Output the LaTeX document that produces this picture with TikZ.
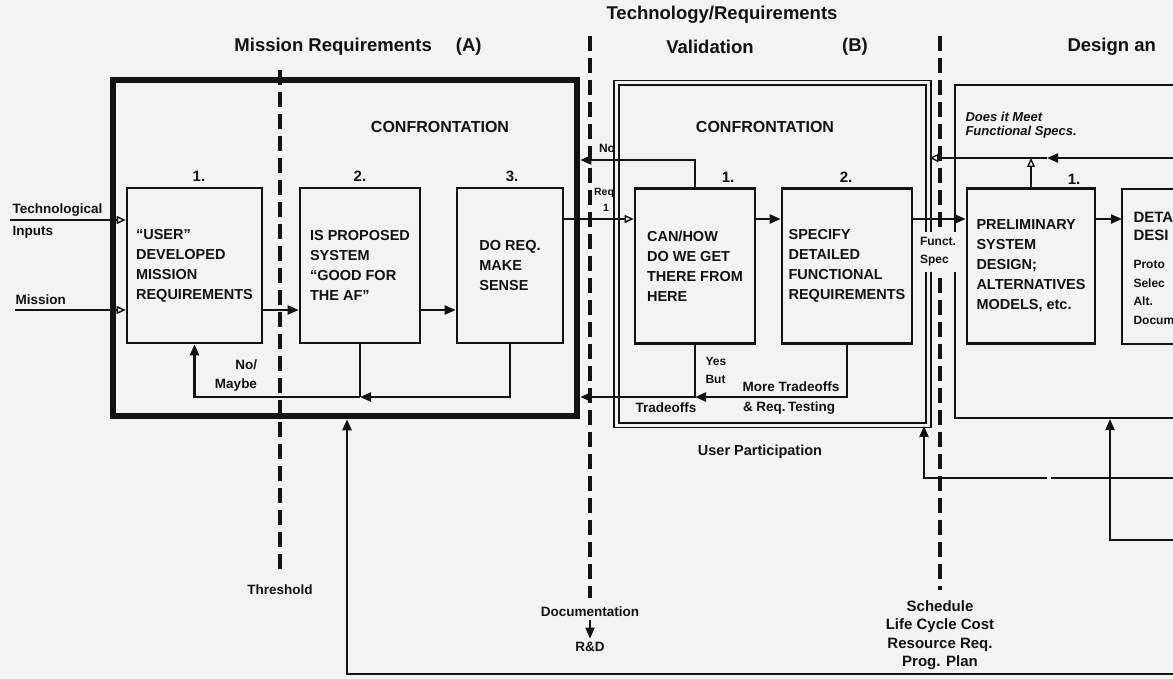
\documentclass[tikz,border=0pt]{standalone}
\usepackage{fontspec}
\setmainfont{Liberation Sans}
\usetikzlibrary{arrows.meta}
\definecolor{bg}{RGB}{243,243,240}
\definecolor{ink}{RGB}{18,18,18}
\begin{document}
\begin{tikzpicture}[x=1pt,y=-1pt,
  every node/.style={text=ink, font=\bfseries},
  proc/.style={draw=ink, line width=2.6pt, align=left, inner sep=0pt,
    font=\fontsize{14.5}{20}\selectfont\bfseries, minimum height=155pt},
  conn/.style={draw=ink, line width=2.2pt},
  arr/.style={conn, -{Triangle[length=11pt,width=9pt]}},
  oarr/.style={conn, -{Triangle[open,length=9pt,width=8pt,line width=1.4pt]}},
  sepline/.style={draw=ink, line width=3.8pt, dash pattern=on 15pt off 7pt},
  hdr/.style={font=\fontsize{18.5}{20}\selectfont\bfseries},
  lbl/.style={font=\fontsize{13.5}{19}\selectfont\bfseries},
  slbl/.style={font=\fontsize{12}{18}\selectfont\bfseries},
  num/.style={font=\fontsize{15}{16}\selectfont\bfseries},
  conf/.style={font=\fontsize{16}{18}\selectfont\bfseries},
  ital/.style={font=\fontsize{13}{15}\selectfont\bfseries\itshape, anchor=west},
]
\useasboundingbox (0,0) rectangle (1173,679);
\fill[bg] (0,0) rectangle (1173,679);

% headers
\node[hdr] (hMR) at (358,47) {Mission Requirements\hspace{24pt}(A)};
\node[hdr] (hTR) at (722,15) {Technology/Requirements};
\node[hdr] (hVal) at (710,47) {Validation};
\node[hdr] (hB) at (855,47) {(B)};
\node[hdr, anchor=west] (hDes) at (1064,47) {Design an};

% phase separators
\draw[sepline] (280,70) -- (280,574);
\draw[sepline] (590,36) -- (590,598);
\draw[sepline] (940,36) -- (940,590);

% frames
\node[draw=ink, line width=6.5pt, minimum width=464pt, minimum height=336pt, inner sep=0pt] (A) at (345,248) {};
\node[draw=ink, double=bg, double distance=3pt, line width=1.8pt, minimum width=312pt, minimum height=342pt, inner sep=0pt] (B) at (772.5,254) {};
\draw[conn, line width=2.4pt] (1173,85) -- (955,85) -- (955,418) -- (1173,418);
\draw[conn, line width=2.4pt] (1173,189) -- (1122,189) -- (1122,344) -- (1173,344);

\node[conf] (cA) at (440,127) {CONFRONTATION};
\node[conf] (cB) at (765,127) {CONFRONTATION};

% process boxes
\node[proc, minimum width=135pt] (A1) at (194.5,265.5) {``USER''\\DEVELOPED\\MISSION\\REQUIREMENTS};
\node[proc, minimum width=120pt] (A2) at (360,265.5) {IS PROPOSED\\SYSTEM\\``GOOD FOR\\THE AF''};
\node[proc, minimum width=106pt] (A3) at (510,265.5) {DO REQ.\\MAKE\\SENSE};
\node[proc, minimum width=120pt] (B1) at (695,266) {CAN/HOW\\DO WE GET\\THERE FROM\\HERE};
\node[proc, minimum width=130pt] (B2) at (847,266) {SPECIFY\\DETAILED\\FUNCTIONAL\\REQUIREMENTS};
\node[proc, minimum width=128pt] (C1) at (1031,266) {PRELIMINARY\\SYSTEM\\DESIGN;\\ALTERNATIVES\\MODELS, etc.};

\node[num] (nA1) at (199,176) {1.};
\node[num] (nA2) at (360,176) {2.};
\node[num] (nA3) at (512,176) {3.};
\node[num] (nB1) at (728,177) {1.};
\node[num] (nB2) at (846,177) {2.};
\node[num] (nC1) at (1074,179) {1.};

% partial box D text
\node[num, anchor=west] (d1) at (1130,217) {DETA};
\node[num, anchor=west] (d2) at (1130,235) {DESI};
\node[slbl, anchor=west] (d3) at (1130,264) {Proto};
\node[slbl, anchor=west] (d4) at (1130,283) {Selec};
\node[slbl, anchor=west] (d5) at (1130,301) {Alt.};
\node[slbl, anchor=west] (d6) at (1130,320) {Docum};

% row coordinates
\coordinate (rowT) at (0,219);
\coordinate (rowM) at (0,310);
\coordinate (rowNo) at (0,160);
\coordinate (rowFb) at (0,397);

% inputs
\coordinate (techS) at (10,220);
\coordinate (misS) at (15,310);
\draw[oarr] (techS) -- (A1.west |- techS);
\draw[oarr] (misS) -- (A1.west |- misS);

% mission requirement flow
\draw[arr] (A1.east |- rowM) -- (A2.west |- rowM);
\draw[arr] (A2.east |- rowM) -- (A3.west |- rowM);
\coordinate (fbA2) at (A2.south |- rowFb);
\draw[arr] (A3.south) -- (A3.south |- rowFb) -- (fbA2);
\draw[conn] (A2.south) -- (fbA2);
\draw[arr] (fbA2) -- (A1.south |- rowFb) -- (A1.south);

% to validation
\draw[oarr] (A3.east |- rowT) -- (B1.west |- rowT);
\draw[arr] (B1.north) -- (B1.north |- rowNo) -- (A.east |- rowNo);
\draw[arr] (B1.east |- rowT) -- (B2.west |- rowT);
\coordinate (fbB1) at (B1.south |- rowFb);
\draw[arr] (B2.south) -- (B2.south |- rowFb) -- (fbB1);
\draw[arr] (B1.south) -- (fbB1) -- (A.east |- rowFb);

% to design
\draw[arr] (B2.east |- rowT) -- (C1.west |- rowT);
\coordinate (Dw) at (1122,219);
\draw[arr] (C1.east |- rowT) -- (Dw);
\coordinate (dmR) at (1173,158);
\coordinate (dmM) at (1047,158);
\draw[arr] (dmR) -- (dmM);
\draw[oarr] (dmM) -- (B.east |- dmM);
\draw[oarr] (C1.north) -- (C1.north |- dmM);

% lower feedback lines
\coordinate (r478) at (1173,478);
\coordinate (g1) at (1051,478);
\coordinate (g2) at (1047,478);
\coordinate (c478) at (924,478);
\draw[conn] (r478) -- (g1);
\draw[arr] (g2) -- (c478) -- (B.south -| c478);
\coordinate (r540) at (1173,540);
\coordinate (c540) at (1110,540);
\coordinate (Cbot) at (1110,419);
\draw[arr] (r540) -- (c540) -- (Cbot);
\coordinate (botR) at (1173,674);
\coordinate (botL) at (347,674);
\draw[arr] (botR) -- (botL) -- (botL |- A.south);

% labels
\node[lbl, anchor=base west] (tech) at (9,214) {Technological};
\node[lbl, anchor=north west] (inp) at (9,223) {Inputs};
\node[lbl, anchor=base west] (mis) at (12,304) {Mission};
\node[lbl, align=right] (nomay) at (236,376) {No/\\Maybe};
\node[slbl] (no) at (607,148) {No};
\node[font=\fontsize{10.5}{11}\selectfont\bfseries] (req) at (604,193) {Req};
\node[font=\fontsize{10.5}{11}\selectfont\bfseries] (req1) at (606,208) {1};
\node[slbl, align=left, anchor=west] (yesbut) at (702,370) {Yes\\But};
\node[lbl] (more) at (791,387) {More Tradeoffs};
\node[lbl] (reqt) at (789,408) {\& Req.\,Testing};
\node[lbl] (trade) at (666,408) {Tradeoffs};
\node[slbl, fill=bg, align=left, minimum width=46pt, minimum height=40pt, inner sep=1pt] (fspec) at (938,252) {Funct.\\Spec};
\node[ital] (dm1) at (962,117) {Does it Meet};
\node[ital] (dm2) at (962,132) {Functional Specs.};
\node[font=\fontsize{14.5}{16}\selectfont\bfseries] (user) at (760,452) {User Participation};
\node[lbl] (thr) at (280,590) {Threshold};
\node[lbl] (doc) at (590,612) {Documentation};
\node[lbl] (rd) at (590,647) {R\&D};
\draw[arr, line width=1.6pt] (doc) -- (rd);
\node[font=\fontsize{15}{18.5}\selectfont\bfseries, align=center, anchor=north] (sched) at (940,597) {Schedule\\Life Cycle Cost\\Resource Req.\\Prog. Plan};
\end{tikzpicture}
\end{document}
